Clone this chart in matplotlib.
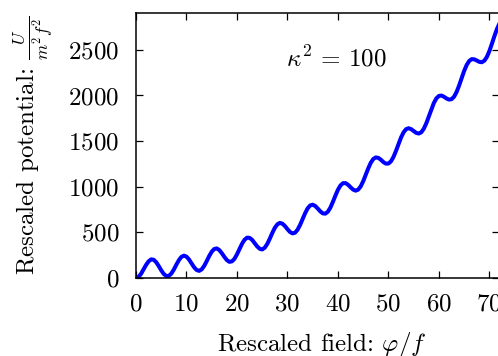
import numpy as np
import matplotlib
matplotlib.use("Agg")
import matplotlib.pyplot as plt

# Computer Modern look
plt.rcParams['font.family'] = 'serif'
plt.rcParams['font.serif'] = ['cmr10']
plt.rcParams['mathtext.fontset'] = 'cm'
plt.rcParams['axes.formatter.use_mathtext'] = True
plt.rcParams['axes.unicode_minus'] = False

field_step = 0.5
potential = [
    0, 12, 46, 94, 144, 183, 204, 200, 173, 131, 84, 44, 22,
    23, 49, 93, 147, 196, 232, 245, 234, 203, 160, 118, 88, 78,
    94, 132, 184, 241, 288, 318, 324, 306, 272, 231, 196, 177,
    182, 210, 259, 318, 375, 419, 442, 440, 418, 382, 346, 320, 313,
    332, 373, 431, 494, 550, 588, 604, 595, 569, 535, 504, 489,
    496, 529, 581, 646, 710, 763, 795, 803, 789, 761, 730, 708, 705,
    726, 771, 834, 903, 967, 1014, 1039, 1040, 1022, 994, 969, 957,
    968, 1003, 1060, 1130, 1201, 1262, 1304, 1321, 1316, 1296, 1270, 1253, 1254,
    1278, 1326, 1393, 1468, 1540, 1596, 1631, 1641, 1631, 1610, 1590, 1583, 1596,
    1635, 1695, 1770, 1848, 1918, 1968, 1995, 1999, 1986, 1967, 1955, 1959,
    1986, 2038, 2109, 2190, 2269, 2334, 2378, 2398, 2396, 2383, 2368, 2364, 2381,
    2422, 2487, 2567, 2651, 2729, 2789,
]
field = np.arange(len(potential)) * field_step

x_ticks = [0, 10, 20, 30, 40, 50, 60, 70]
y_ticks = [0, 500, 1000, 1500, 2000, 2500]
kappa_label = r'$\kappa^2\,=\,100$'

fig = plt.figure(figsize=(4.98, 3.56), dpi=100)
ax = fig.add_axes([0.2731, 0.2191, 0.7299, 0.7435])

ax.plot(field, potential, color='#0000ff', linewidth=2.9, solid_joinstyle='round')

ax.set_xlim(0, 72)
ax.set_ylim(0, 2900)
ax.set_xticks(x_ticks)
ax.set_yticks(y_ticks)

# inward ticks on every side, like gnuplot
ax.tick_params(direction='in', top=True, right=True, length=5, width=0.9,
               labelsize=18)
ax.tick_params(axis='y', pad=12)
ax.tick_params(axis='x', pad=11)
for spine in ax.spines.values():
    spine.set_linewidth(1.1)

ax.set_xlabel(r'Rescaled field: $\varphi/f$', fontsize=18)
ax.set_ylabel(r'Rescaled potential: $\frac{U}{m^2f^2}$', fontsize=18)
ax.xaxis.set_label_coords(0.51, -0.195)
ax.yaxis.set_label_coords(-0.22, 0.5)

ax.text(0.551, 0.801, kappa_label, transform=ax.transAxes, fontsize=18,
        ha='center', va='baseline')

plt.savefig('out.png', dpi=100)
